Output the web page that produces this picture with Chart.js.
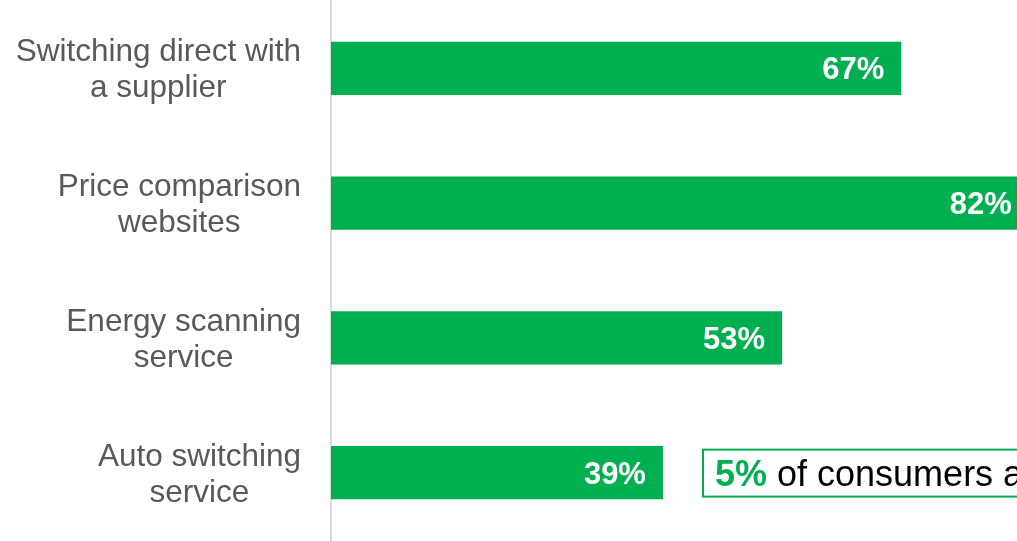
<!DOCTYPE html>
<html>
<head>
<meta charset="utf-8">
<script src="https://cdn.jsdelivr.net/npm/chart.js@4"></script>
<style>
  html, body { margin: 0; padding: 0; background: #fff; }
  #wrap { position: relative; width: 1017px; height: 541px; }
</style>
</head>
<body>
<div id="wrap"><canvas id="chart-channels"></canvas></div>
<script>
  // data
  const categories = [
    ['Switching direct with', 'a supplier'],
    ['Price comparison', 'websites'],
    ['Energy scanning', 'service'],
    ['Auto switching', 'service']
  ];
  const shares = [67, 82, 53, 39];
  const noteValue = '5%';
  const noteText = ' of consumers a';

  const GREEN = '#00B050';
  const FONT = '"Liberation Sans", Arial, sans-serif';

  // y axis labels, centred per block, right edge fixed
  const labelPlugin = {
    id: 'catLabels',
    afterDraw(chart) {
      const ctx = chart.ctx;
      const y = chart.scales.y;
      ctx.save();
      ctx.font = '31.5px ' + FONT;
      ctx.fillStyle = '#595959';
      ctx.textAlign = 'center';
      ctx.textBaseline = 'alphabetic';
      categories.forEach((lines, i) => {
        const cy = y.getPixelForValue(i);
        const maxW = Math.max(...lines.map((l) => ctx.measureText(l).width));
        const cx = 301 - maxW / 2;
        lines.forEach((l, k) => {
          ctx.fillText(l, cx, cy - 7 + k * 36);
        });
      });
      ctx.restore();
    }
  };

  // white values at the end of each bar + the note box
  const valuePlugin = {
    id: 'barValues',
    afterDatasetsDraw(chart) {
      const ctx = chart.ctx;
      const meta = chart.getDatasetMeta(0);
      ctx.save();
      ctx.font = 'bold 31px ' + FONT;
      ctx.fillStyle = '#FFFFFF';
      ctx.textAlign = 'right';
      ctx.textBaseline = 'alphabetic';
      meta.data.forEach((bar, i) => {
        ctx.fillText(shares[i] + '%', bar.x - 17, bar.y + 11);
      });

      // note box next to the last bar
      const last = meta.data[meta.data.length - 1];
      const bx = 703, by = last.y - 23;
      ctx.strokeStyle = GREEN;
      ctx.lineWidth = 2;
      ctx.strokeRect(bx, by, 400, 47);
      ctx.textAlign = 'left';
      ctx.font = 'bold 36px ' + FONT;
      ctx.fillStyle = GREEN;
      ctx.fillText(noteValue, bx + 12, last.y + 13);
      const w = ctx.measureText(noteValue).width;
      ctx.font = '36px ' + FONT;
      ctx.fillStyle = '#000000';
      ctx.fillText(noteText, bx + 12 + w, last.y + 13);
      ctx.restore();
    }
  };

  const ctx = document.getElementById('chart-channels').getContext('2d');
  new Chart(ctx, {
    type: 'bar',
    data: {
      labels: categories,
      datasets: [{
        data: shares,
        backgroundColor: GREEN,
        borderWidth: 0,
        categoryPercentage: 1,
        barPercentage: 0.394
      }]
    },
    options: {
      indexAxis: 'y',
      responsive: true,
      maintainAspectRatio: false,
      animation: false,
      layout: { padding: { top: 1, bottom: 1, left: 0, right: 0 } },
      plugins: { legend: { display: false }, tooltip: { enabled: false } },
      scales: {
        x: { display: false, min: 0, max: 80.6 },
        y: {
          ticks: { display: false },
          grid: { display: false },
          border: { display: true, color: '#D9D9D9', width: 2 },
          afterFit(scale) { scale.width = 331; }
        }
      }
    },
    plugins: [labelPlugin, valuePlugin]
  });
</script>
</body>
</html>
